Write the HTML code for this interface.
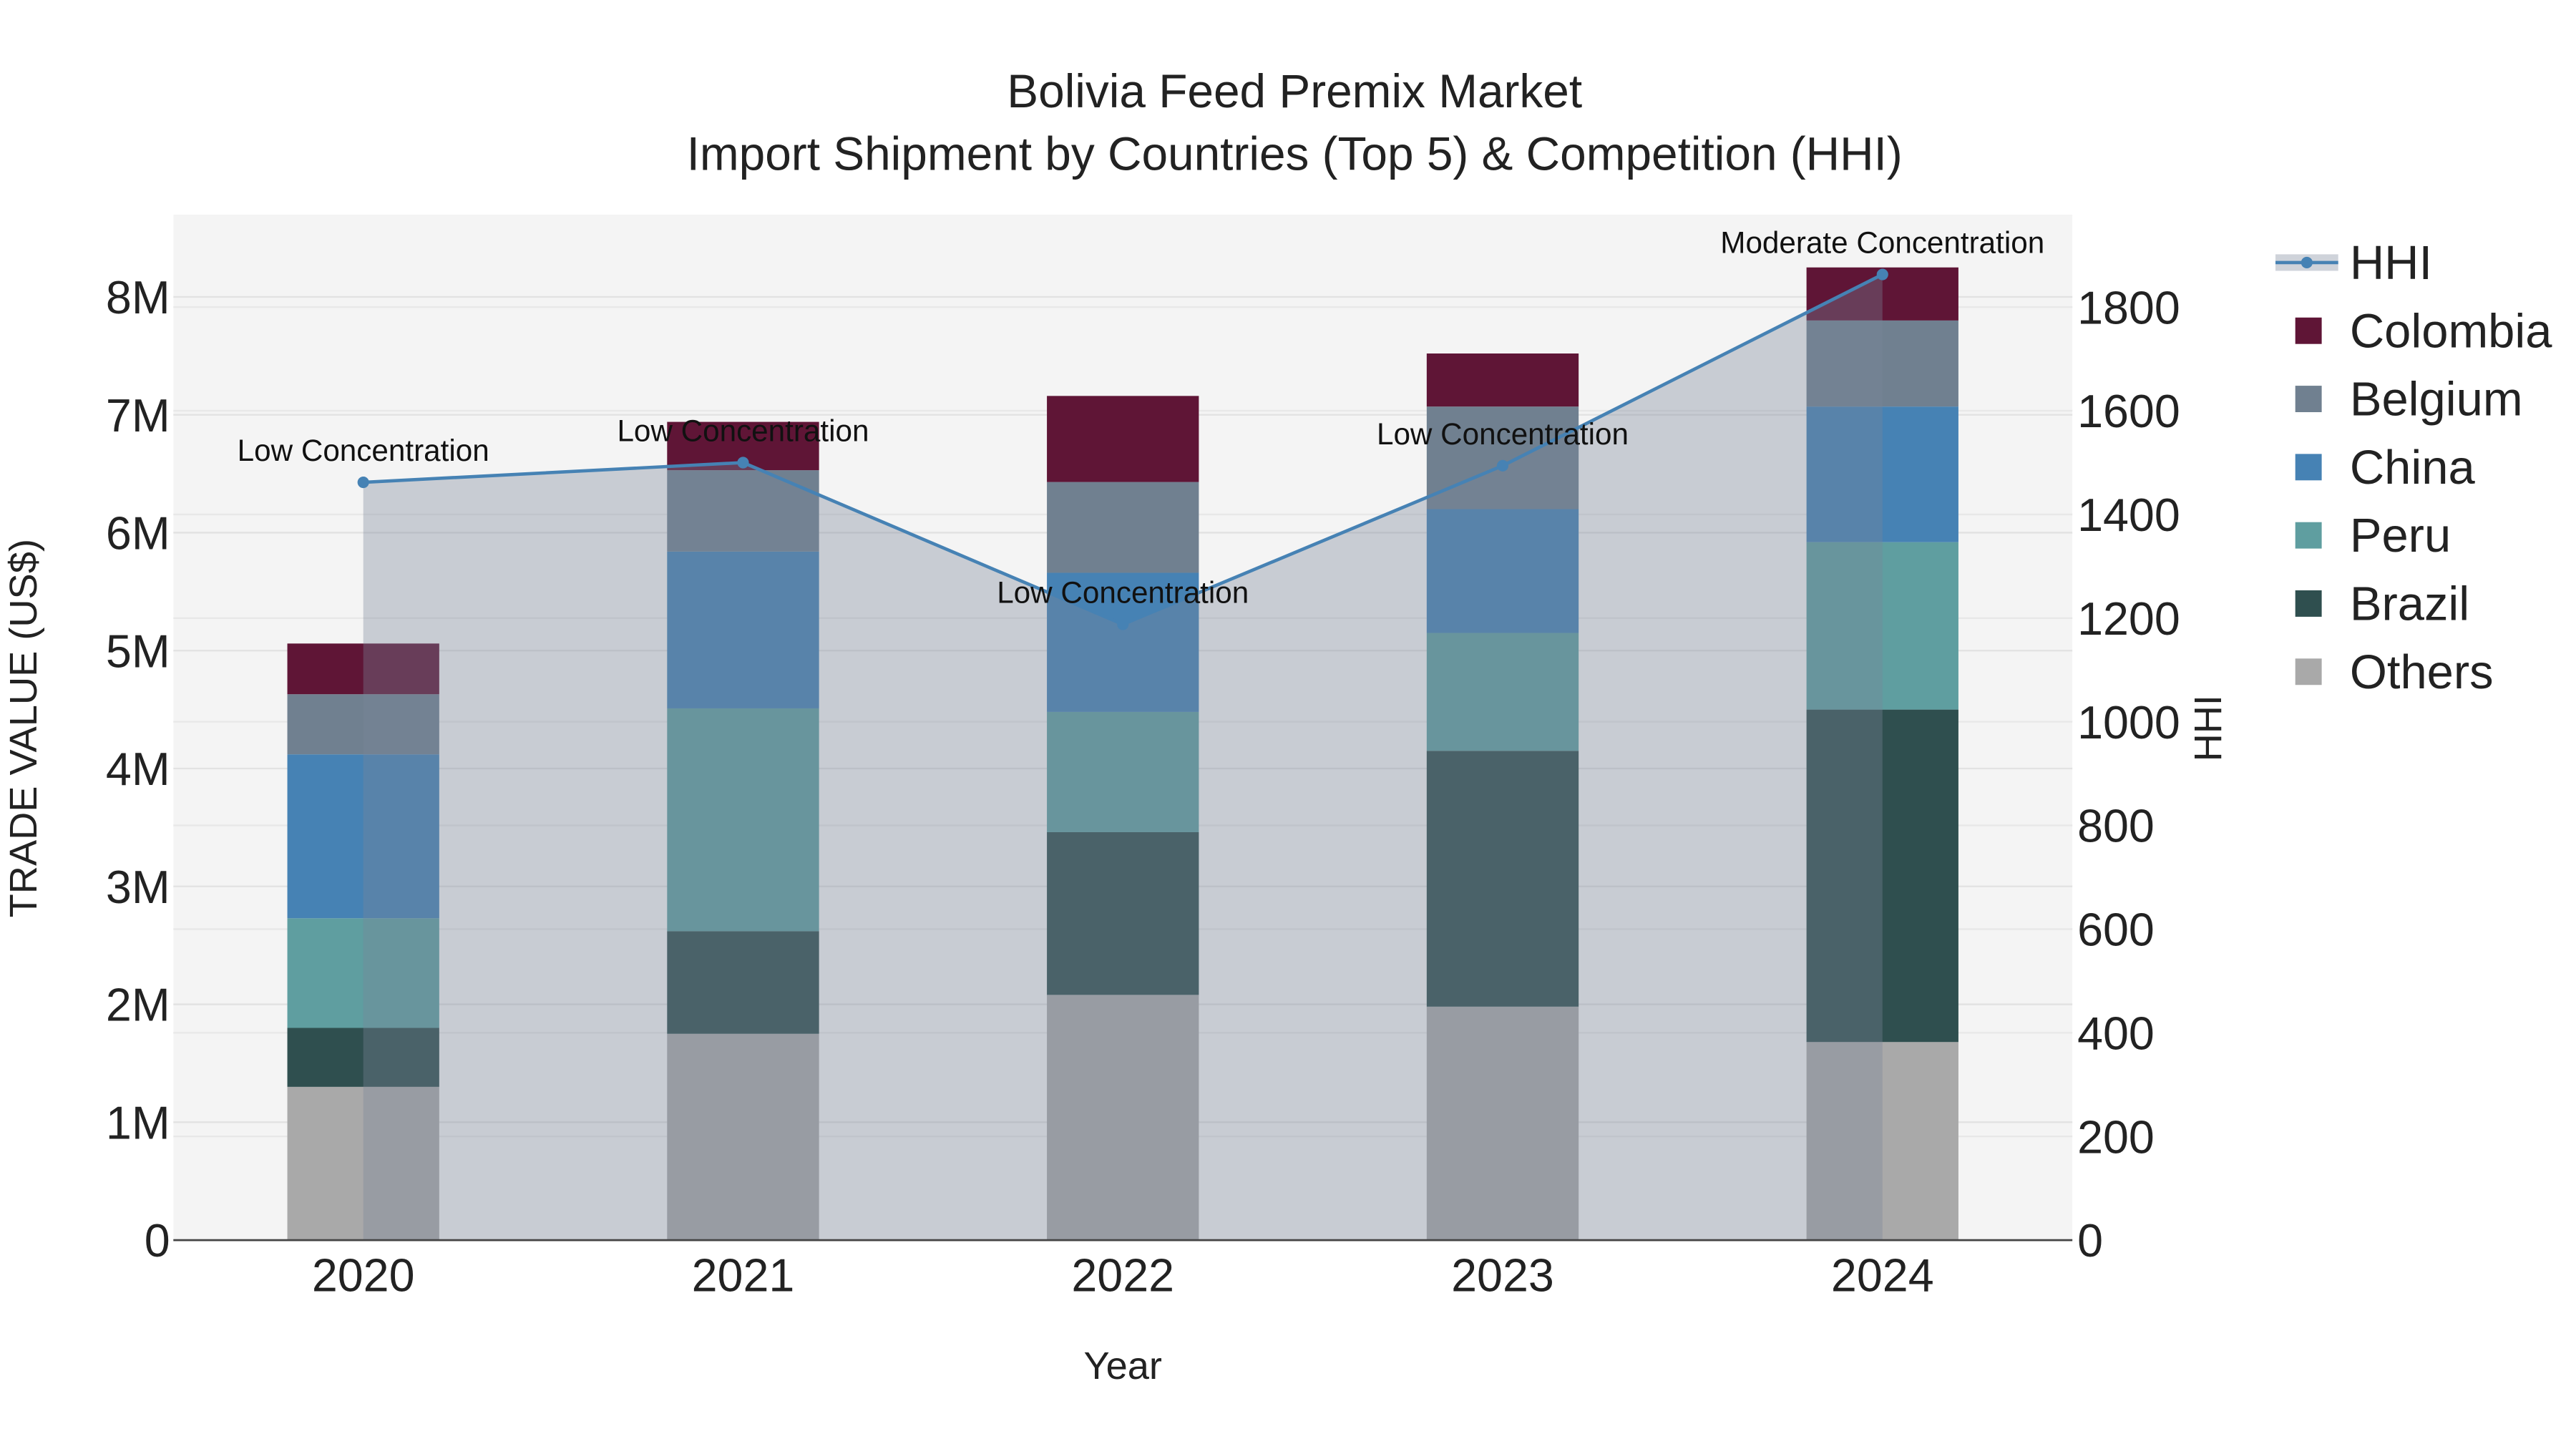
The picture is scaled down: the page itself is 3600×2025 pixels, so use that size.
<!DOCTYPE html>
<html><head><meta charset="utf-8"><style>html,body{margin:0;padding:0;background:#fff}svg{display:block}text{font-family:"Liberation Sans",sans-serif}</style></head>
<body>
<svg id="chart" width="3600" height="2025" viewBox="0 0 1560 877.5" xmlns="http://www.w3.org/2000/svg">
<rect x="105" y="130" width="1150" height="621" fill="#f4f4f4"/>
<g id="grid"></g><g id="bars"></g><g id="hhi"></g><g id="axes"></g>
<text x="784" y="65" font-size="28.5" text-anchor="middle" fill="#222">Bolivia Feed Premix Market</text>
<text x="784" y="103" font-size="28.5" text-anchor="middle" fill="#222">Import Shipment by Countries (Top 5) &amp; Competition (HHI)</text>
<text transform="translate(22,441) rotate(-90)" font-size="23.5" text-anchor="middle" fill="#222">TRADE VALUE (US$)</text>
<text transform="translate(1345,441) rotate(-90)" font-size="23.5" text-anchor="middle" fill="#222">HHI</text>
<text x="680" y="835" font-size="23.5" text-anchor="middle" fill="#222">Year</text>
<g id="legend"></g>
</svg>
<script>
const years=["2020","2021","2022","2023","2024"];
const seriesNames=["Others","Brazil","Peru","China","Belgium","Colombia"];
const others=[1.30,1.75,2.08,1.98,1.68];
const brazil=[0.50,0.87,1.38,2.17,2.82];
const peru=[0.93,1.89,1.02,1.00,1.42];
const china=[1.39,1.33,1.18,1.05,1.15];
const belgium=[0.51,0.69,0.77,0.87,0.73];
const colombia=[0.43,0.41,0.73,0.45,0.45];
const hhi=[1462,1500,1188,1494,1863];
const hhiLabels=["Low Concentration","Low Concentration","Low Concentration","Low Concentration","Moderate Concentration"];
const yTicks=[0,1,2,3,4,5,6,7,8];
const y2Ticks=[0,200,400,600,800,1000,1200,1400,1600,1800];
const colors={Others:"#a9a9a9",Brazil:"#2f4f4f",Peru:"#5f9ea0",China:"#4682b4",Belgium:"#708090",Colombia:"#5f1536"};
const NS="http://www.w3.org/2000/svg";
const X=i=>220+i*230, Y=v=>751-v*71.4, Y2=v=>751-v*0.3139;
function mk(tag,attrs,parent,txt){const e=document.createElementNS(NS,tag);for(const k in attrs)e.setAttribute(k,attrs[k]);if(txt!==undefined)e.textContent=txt;document.getElementById(parent).appendChild(e);return e;}
yTicks.forEach(t=>{const l=mk('line',{x1:105,x2:1255,y1:Y(t),y2:Y(t),stroke:'#e2e2e2','stroke-width':1},'grid');

});
y2Ticks.forEach(t=>{const l=mk('line',{x1:105,x2:1255,y1:Y2(t),y2:Y2(t),stroke:'#e8e8e8','stroke-width':1},'grid');

});
const data={Others:others,Brazil:brazil,Peru:peru,China:china,Belgium:belgium,Colombia:colombia};
years.forEach((yr,i)=>{let base=0;seriesNames.forEach(s=>{const v=data[s][i];
const r=mk('rect',{x:X(i)-46,width:92,y:Y(base+v),height:Y(base)-Y(base+v),fill:colors[s]},'bars');


base+=v;});});
let d='M'+X(0)+','+Y2(0);hhi.forEach((v,i)=>d+=' L'+X(i)+','+Y2(v));d+=' L'+X(hhi.length-1)+','+Y2(0)+' Z';
const area=mk('path',{d:d,fill:'rgba(122,133,153,0.36)'},'hhi');


const line=mk('polyline',{points:hhi.map((v,i)=>X(i)+','+Y2(v)).join(' '),fill:'none',stroke:'#4682b4','stroke-width':2},'hhi');


hhi.forEach((v,i)=>{const c=mk('circle',{cx:X(i),cy:Y2(v),r:3.5,fill:'#4682b4'},'hhi');


const t=mk('text',{x:X(i),y:Y2(v)-13,'font-size':18.3,'text-anchor':'middle',fill:'#111'},'hhi',hhiLabels[i]);

});
const ax=mk('line',{x1:105,x2:1255,y1:751,y2:751,stroke:'#444','stroke-width':1.2},'axes');


yTicks.forEach(t=>{const e=mk('text',{x:103,y:Y(t)+10,'font-size':28,'text-anchor':'end',fill:'#222'},'axes',t===0?'0':t+'M');

});
y2Ticks.forEach(t=>{const e=mk('text',{x:1258,y:Y2(t)+10,'font-size':28,fill:'#222'},'axes',String(t));

});
years.forEach((yr,i)=>{const e=mk('text',{x:X(i),y:782,'font-size':28,'text-anchor':'middle',fill:'#222'},'axes',yr);

});
const lg=[["HHI",null],["Colombia",colors.Colombia],["Belgium",colors.Belgium],["China",colors.China],["Peru",colors.Peru],["Brazil",colors.Brazil],["Others",colors.Others]];
lg.forEach((e,k)=>{const y=159+k*41.3;
if(e[1]===null){const r=mk('rect',{x:1378,y:y-5,width:38,height:10,fill:'rgba(122,133,153,0.36)'},'legend');


const l=mk('line',{x1:1378,x2:1416,y1:y,y2:y,stroke:'#4682b4','stroke-width':2},'legend');


const c=mk('circle',{cx:1397,cy:y,r:3.5,fill:'#4682b4'},'legend');

}
else{const r=mk('rect',{x:1390,y:y-8,width:16,height:16,fill:e[1]},'legend');

}
const t=mk('text',{x:1423,y:y+10,'font-size':29,fill:'#222'},'legend',e[0]);

});
</script>
</body></html>
